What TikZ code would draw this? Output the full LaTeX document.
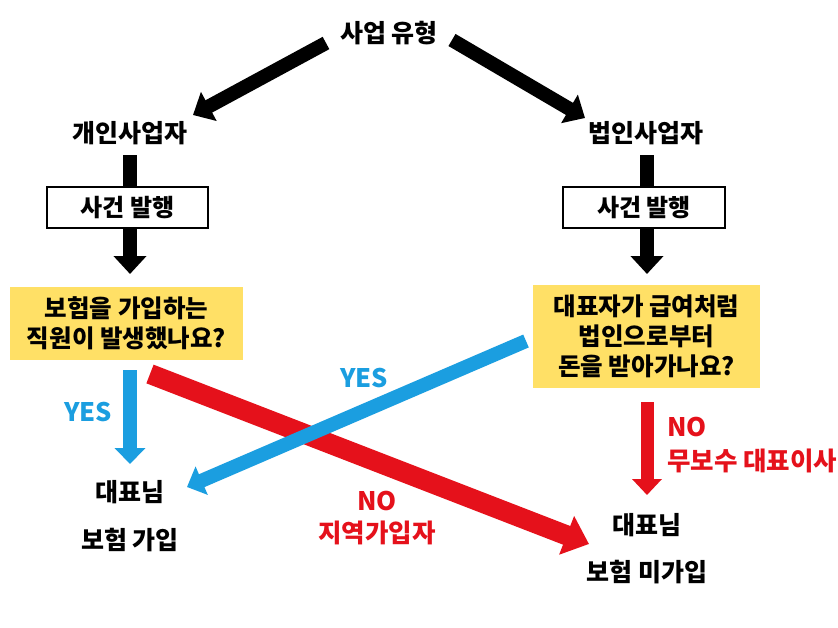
\documentclass[tikz,border=0pt]{standalone}
\usepackage{fontspec}
\setmainfont{Noto Sans CJK KR}
\usetikzlibrary{arrows.meta}
\definecolor{kyellow}{HTML}{FFE066}
\definecolor{kblue}{HTML}{1B9EE0}
\definecolor{kred}{HTML}{E5111B}
\tikzset{
  lbl/.style={inner sep=0pt, font=\fontsize{25}{30}\selectfont\bfseries, align=center},
  evbox/.style={draw=black, line width=2.7pt, fill=white, minimum width=161pt, minimum height=41pt, inner sep=0pt, font=\fontsize{24}{30}\selectfont\bfseries},
  qbox/.style={fill=kyellow, inner sep=0pt, align=center, font=\fontsize{24.5}{30}\selectfont\bfseries},
  bluetxt/.style={inner sep=0pt, text=kblue, font=\fontsize{25.5}{30}\selectfont\bfseries},
  redtxt/.style={inner sep=0pt, text=kred, font=\fontsize{25.5}{30}\selectfont\bfseries},
  blkarrow/.style={draw=black, line width=14pt, -{Triangle[width=32pt,length=18pt]}},
  bluearrow/.style={draw=kblue, line width=14pt, -{Triangle[width=30pt,length=16pt]}},
  redarrow/.style={draw=kred, line width=13pt, -{Triangle[width=29pt,length=16pt]}},
  bigred/.style={draw=kred, line width=20pt, -{Triangle[width=40pt,length=24pt]}},
}
\begin{document}
\begin{tikzpicture}[x=1pt,y=-1pt]
\useasboundingbox (0,0) rectangle (838,627);
\fill[white] (0,0) rectangle (838,627);

% coordinates for arrow ends
\coordinate (a1s) at (326,43);
\coordinate (a1e) at (193,115);
\coordinate (a2s) at (452,40);
\coordinate (a2e) at (585,118);
\coordinate (v1s) at (130,155);
\coordinate (v1e) at (130,274);
\coordinate (v2s) at (647,155);
\coordinate (v2e) at (647,274);
\coordinate (y1s) at (130,370);
\coordinate (y1e) at (130,464);
\coordinate (y2s) at (526,341);
\coordinate (y2e) at (187,487);
\coordinate (n1s) at (150,374);
\coordinate (n1e) at (589,544);
\coordinate (n2s) at (647,402);
\coordinate (n2e) at (647,495);

% black arrows
\draw[blkarrow] (a1s) -- (a1e);
\draw[blkarrow] (a2s) -- (a2e);
\draw[blkarrow] (v1s) -- (v1e);
\draw[blkarrow] (v2s) -- (v2e);

% nodes
\node[lbl] (top) at (389,33) {사업 유형};
\node[lbl] (p1) at (130,133) {개인사업자};
\node[lbl] (p2) at (646,133) {법인사업자};
\node[evbox] (b1) at (127.5,207.5) {사건 발행};
\node[evbox, minimum width=162pt] (b2) at (644,207.5) {사건 발행};
\node[qbox, minimum width=233pt, minimum height=73pt] (q1) at (126.5,323.5) {보험을 가입하는\\직원이 발생했나요?};
\node[qbox, minimum width=227pt, minimum height=103pt] (q2) at (646.5,336.5) {대표자가 급여처럼\\법인으로부터\\돈을 받아가나요?};

\node[lbl] (r1a) at (130,492) {대표님};
\node[lbl] (r1b) at (130,540) {보험 가입};
\node[lbl] (r2a) at (647,525) {대표님};
\node[lbl] (r2b) at (647,572) {보험 미가입};

% colored arrows
\draw[bluearrow] (y1s) -- (y1e);
\draw[bigred] (n1s) -- (n1e);
\draw[bluearrow] (y2s) -- (y2e);
\draw[redarrow] (n2s) -- (n2e);

% labels
\node[bluetxt] (yes1) at (88,412) {YES};
\node[bluetxt] (yes2) at (364,378) {YES};
\node[redtxt] (no1) at (377,501) {NO};
\node[redtxt] (no1b) at (377,533) {지역가입자};
\node[redtxt, anchor=west] (no2) at (667,427) {NO};
\node[redtxt, anchor=west] (no2b) at (667,461) {무보수 대표이사};
\end{tikzpicture}
\end{document}
